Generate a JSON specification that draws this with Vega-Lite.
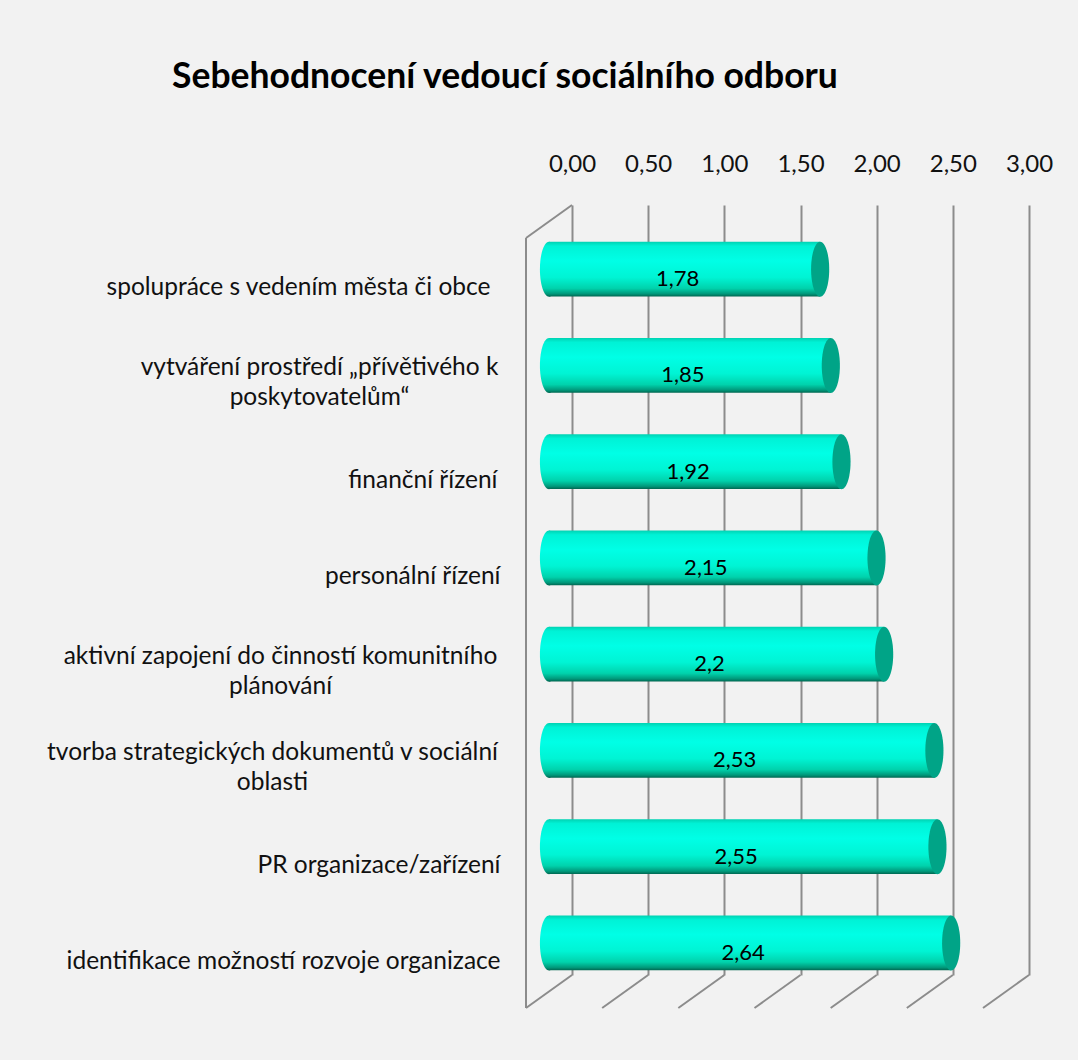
{
  "$schema": "https://vega.github.io/schema/vega-lite/v6.json",
  "width": 457,
  "height": 770,
  "autosize": {"type": "none"},
  "padding": {"left": 572, "top": 205, "right": 49, "bottom": 85},
  "background": "#f2f2f2",
  "config": {"view": {"stroke": null}, "font": "Lato"},
  "title": {
    "text": "Sebehodnocení  vedoucí sociálního odboru",
    "anchor": "start",
    "frame": "group",
    "dx": -400,
    "offset": 57,
    "fontSize": 35.5,
    "fontWeight": "bold",
    "font": "Lato",
    "color": "#000000"
  },
  "data": {
    "values": [
      {"category": "spolupráce s vedením města či obce", "value": 1.78, "label": "1,78"},
      {"category": "vytváření prostředí „přívětivého k\nposkytovatelům“", "value": 1.85, "label": "1,85"},
      {"category": "finanční řízení", "value": 1.92, "label": "1,92"},
      {"category": "personální řízení", "value": 2.15, "label": "2,15"},
      {"category": "aktivní zapojení do činností komunitního\nplánování", "value": 2.2, "label": "2,2"},
      {"category": "tvorba strategických dokumentů v sociální\noblasti", "value": 2.53, "label": "2,53"},
      {"category": "PR organizace/zařízení", "value": 2.55, "label": "2,55"},
      {"category": "identifikace možností rozvoje organizace", "value": 2.64, "label": "2,64"}
    ]
  },
  "layer": [
    {
      "data": {"values": [{"t": 0}, {"t": 0.5}, {"t": 1}, {"t": 1.5}, {"t": 2}, {"t": 2.5}, {"t": 3}]},
      "mark": {"type": "rule", "color": "#8c8c8c", "strokeWidth": 2, "x2Offset": -46, "y2Offset": 33},
      "encoding": {
        "x": {"field": "t", "type": "quantitative"},
        "x2": {"field": "t"},
        "y": {"value": "height"},
        "y2": {"value": "height"}
      }
    },
    {
      "data": {"values": [{"t": 0}]},
      "mark": {"type": "rule", "color": "#8c8c8c", "strokeWidth": 2, "xOffset": -46, "yOffset": 33, "y2Offset": 33},
      "encoding": {
        "x": {"field": "t", "type": "quantitative"},
        "y": {"value": 0},
        "y2": {"value": "height"}
      }
    },
    {
      "data": {"values": [{"t": 0}]},
      "mark": {"type": "rule", "color": "#8c8c8c", "strokeWidth": 2, "x2Offset": -46, "y2Offset": 33},
      "encoding": {
        "x": {"field": "t", "type": "quantitative"},
        "x2": {"field": "t"},
        "y": {"value": 0},
        "y2": {"value": 0}
      }
    },
    {
      "mark": {
        "type": "bar",
        "height": {"band": 0.57},
        "xOffset": -23,
        "x2Offset": -23,
        "yOffset": 16,
        "y2Offset": 16,
        "color": {
          "gradient": "linear",
          "x1": 0, "y1": 0, "x2": 0, "y2": 1,
          "stops": [
            {"offset": 0, "color": "#00d2b2"},
            {"offset": 0.08, "color": "#00f2d6"},
            {"offset": 0.35, "color": "#00ffe6"},
            {"offset": 0.65, "color": "#00f4d4"},
            {"offset": 0.85, "color": "#00d2ac"},
            {"offset": 0.95, "color": "#00987a"},
            {"offset": 1, "color": "#006650"}
          ]
        }
      },
      "encoding": {
        "y": {
          "field": "category",
          "type": "nominal",
          "sort": null,
          "scale": {"paddingInner": 0, "paddingOuter": 0},
          "axis": {
            "title": null,
            "domain": false,
            "ticks": false,
            "grid": false,
            "labelFont": "Lato",
            "labelFontSize": 24.5,
            "labelColor": "#111111",
            "labelLimit": 600,
            "labelLineHeight": 30,
            "labelOffset": {"condition": {"test": "indexof(datum.value, '\\n') >= 0", "value": 19}, "value": 35},
            "labelOverlap": false,
            "labelExpr": "split(datum.label, '\\n')",
            "labelAlign": {"condition": {"test": "indexof(datum.value, '\\n') >= 0", "value": "center"}, "value": "right"},
            "labelPadding": {
              "condition": [
                {"test": "indexof(datum.value, 'vytv') === 0", "value": 253},
                {"test": "indexof(datum.value, 'aktiv') === 0", "value": 292},
                {"test": "indexof(datum.value, 'tvorba') === 0", "value": 300},
                {"test": "indexof(datum.value, 'spolupr') === 0", "value": 82},
                {"test": "indexof(datum.value, 'finan') === 0", "value": 75}
              ],
              "value": 72
            }
          }
        },
        "x": {
          "field": "value",
          "type": "quantitative",
          "scale": {"domain": [0, 3], "nice": false, "zero": true},
          "axis": {
            "orient": "top",
            "title": null,
            "values": [0, 0.5, 1, 1.5, 2, 2.5, 3],
            "labelExpr": "replace(format(datum.value, '.2f'), '.', ',')",
            "domain": false,
            "ticks": false,
            "grid": true,
            "gridColor": "#8c8c8c",
            "gridWidth": 2,
            "labelFont": "Lato",
            "labelFontSize": 24,
            "labelColor": "#111111",
            "labelPadding": 29,
            "labelFlush": false
          }
        }
      }
    },
    {
      "mark": {
        "type": "point",
        "filled": true,
        "opacity": 1,
        "size": 3025,
        "shape": "M 0 -1 A 0.33 1 0 1 0 0 1 A 0.33 1 0 1 0 0 -1 Z",
        "xOffset": -23,
        "yOffset": 16,
        "fill": {
          "gradient": "linear",
          "x1": 0, "y1": 0, "x2": 0, "y2": 1,
          "stops": [
            {"offset": 0, "color": "#00d2b2"},
            {"offset": 0.08, "color": "#00f2d6"},
            {"offset": 0.35, "color": "#00ffe6"},
            {"offset": 0.65, "color": "#00f4d4"},
            {"offset": 0.85, "color": "#00d2ac"},
            {"offset": 0.95, "color": "#00987a"},
            {"offset": 1, "color": "#006650"}
          ]
        },
        "stroke": null
      },
      "encoding": {
        "y": {"field": "category", "type": "nominal", "sort": null},
        "x": {"datum": 0, "type": "quantitative"}
      }
    },
    {
      "mark": {
        "type": "point",
        "filled": true,
        "opacity": 1,
        "size": 3025,
        "shape": "M 0 -1 A 0.33 1 0 1 0 0 1 A 0.33 1 0 1 0 0 -1 Z",
        "xOffset": -23,
        "yOffset": 16,
        "color": "#00a487"
      },
      "encoding": {
        "y": {"field": "category", "type": "nominal", "sort": null},
        "x": {"field": "value", "type": "quantitative"}
      }
    },
    {
      "transform": [{"calculate": "datum.value / 2", "as": "mid"}],
      "mark": {
        "type": "text",
        "font": "Lato",
        "fontSize": 22,
        "color": "#000000",
        "xOffset": -30,
        "yOffset": 26,
        "align": "center",
        "baseline": "middle"
      },
      "encoding": {
        "y": {"field": "category", "type": "nominal", "sort": null},
        "x": {"field": "mid", "type": "quantitative"},
        "text": {"field": "label"}
      }
    }
  ]
}
